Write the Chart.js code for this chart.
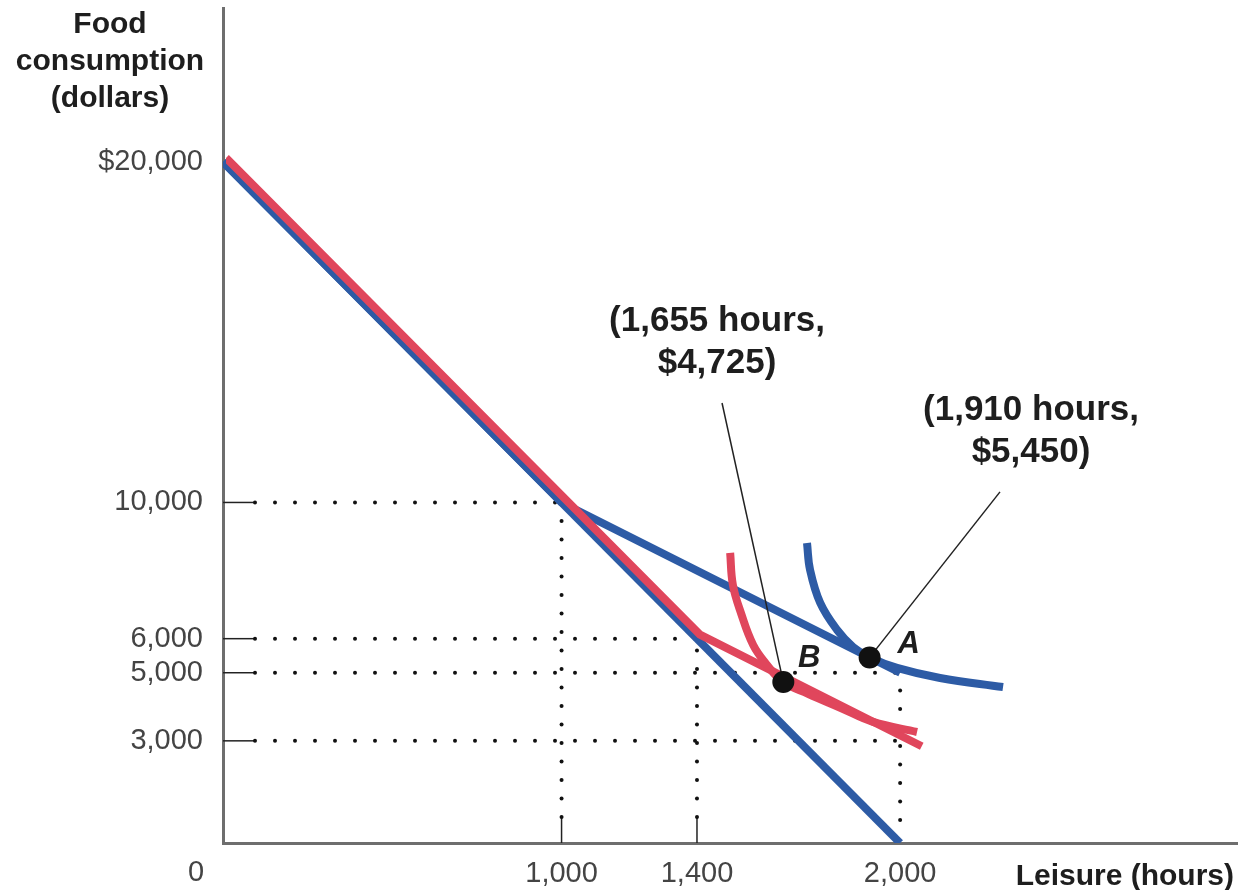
<!DOCTYPE html>
<html lang="en">
<head>
<meta charset="UTF-8">
<title>Food consumption and leisure</title>
<script src="https://cdn.jsdelivr.net/npm/chart.js"></script>
<style>
  * { margin: 0; padding: 0; box-sizing: border-box; }
  body { background: #fff; width: 1238px; height: 890px; overflow: hidden; }
  canvas { display: block; }
</style>
</head>
<body>
<canvas id="chart" width="1238" height="890"></canvas>
<script>
// budget lines: leisure (hours) -> food (dollars)
const blueBudgetX = [0, 2000];
const blueBudgetY = [20000, 0];
const blueKinkX = [0, 1000, 2000];
const blueKinkY = [20000, 10000, 5000];
const redBudgetX = [0, 1400, 2055];
const redBudgetY = [20000, 6000, 2725];

// indifference curves
const redCurveX = [1498, 1506, 1530, 1566, 1607, 1655, 1728, 1825, 1920, 2050];
const redCurveY = [8520, 7580, 6750, 5815, 5230, 4725, 4380, 3965, 3555, 3260];
const blueCurveX = [1725, 1734, 1764, 1814, 1861, 1910, 1991, 2118, 2304];
const blueCurveY = [8810, 8020, 7050, 6255, 5755, 5450, 5140, 4845, 4580];

// chosen points and the far end of their callout lines
const pointNames = ['B', 'A'];
const pointX = [1655, 1910];
const pointY = [4725, 5450];
const calloutX = [1474, 2295];
const calloutY = [12920, 10310];
const calloutText = [['(1,655 hours,', '$4,725)'], ['(1,910 hours,', '$5,450)']];

// dotted guides
const guideHY = [10000, 6000, 5000, 3000];
const guideHX = [1000, 1400, 2000, 2000];
const guideVX = [1000, 1400, 2000];
const guideVY = [10000, 6000, 5000];
const solidVX = [1000, 1400];

const xTicks = [1000, 1400, 2000];
const xTickLabels = ['1,000', '1,400', '2,000'];
const yTicks = [3000, 5000, 6000, 10000, 20000];
const yTickLabels = ['3,000', '5,000', '6,000', '10,000', '$20,000'];
const yTitle = ['Food', 'consumption', '(dollars)'];
const xTitle = 'Leisure (hours)';

const RED = '#e0465c';
const BLUE = '#2d5ba5';
const SANS = '"Liberation Sans", Arial, sans-serif';

const pts = (xs, ys) => xs.map((v, i) => ({ x: v, y: ys[i] }));

function dots(ctx, x1, y1, x2, y2, step) {
    const len = Math.hypot(x2 - x1, y2 - y1);
    const n = Math.floor(len / step);
    for (let k = 0; k <= n; k++) {
        const t = len ? k * step / len : 0;
        ctx.beginPath();
        ctx.arc(x1 + (x2 - x1) * t, y1 + (y2 - y1) * t, 2, 0, Math.PI * 2);
        ctx.fill();
    }
}

function seg(ctx, x1, y1, x2, y2) {
    ctx.beginPath();
    ctx.moveTo(x1, y1);
    ctx.lineTo(x2, y2);
    ctx.stroke();
}

const decor = {
    id: 'decor',
    beforeDatasetsDraw(chart) {
        const { ctx, chartArea: a, scales: { x, y } } = chart;
        ctx.save();
        ctx.fillStyle = '#111';
        ctx.strokeStyle = '#222';
        ctx.lineWidth = 1.5;
        guideHY.forEach((v, i) => {
            const py = y.getPixelForValue(v);
            seg(ctx, a.left, py, a.left + 32, py);
            dots(ctx, a.left + 32, py, x.getPixelForValue(guideHX[i]), py, 20);
        });
        guideVX.forEach((v, i) => {
            const px = x.getPixelForValue(v);
            const top = y.getPixelForValue(guideVY[i]);
            if (solidVX.includes(v)) {
                seg(ctx, px, a.bottom, px, a.bottom - 26);
                dots(ctx, px, a.bottom - 26, px, top, 18.5);
            } else {
                dots(ctx, px, a.bottom - 23, px, top, 18.5);
            }
        });
        ctx.restore();
    },
    beforeDatasetDraw(chart, args) {
        const shift = chart.data.datasets[args.index].shift;
        chart.ctx.save();
        if (shift) chart.ctx.translate(shift[0], shift[1]);
    },
    afterDatasetDraw(chart) {
        chart.ctx.restore();
    },
    afterDatasetsDraw(chart) {
        const { ctx, chartArea: a, scales: { x, y } } = chart;
        ctx.save();
        ctx.textAlign = 'center';
        ctx.textBaseline = 'middle';

        // axis titles
        ctx.fillStyle = '#1e1e1e';
        ctx.font = 'bold 30px ' + SANS;
        yTitle.forEach((t, i) => ctx.fillText(t, a.left - 113, 25 + i * 37));
        ctx.textAlign = 'right';
        ctx.fillText(xTitle, a.right - 4, a.bottom + 34);

        // origin
        ctx.textAlign = 'center';
        ctx.fillStyle = '#444';
        ctx.font = '29px ' + SANS;
        ctx.fillText('0', a.left - 27, a.bottom + 30);

        // callouts
        ctx.fillStyle = '#1e1e1e';
        ctx.font = 'bold 35px ' + SANS;
        const dx = [-5, 31];
        calloutText.forEach((lines, i) => {
            const px = x.getPixelForValue(calloutX[i]) + dx[i];
            const py = y.getPixelForValue(calloutY[i]);
            ctx.fillText(lines[0], px, py - 82);
            ctx.fillText(lines[1], px, py - 40);
        });

        // point names
        ctx.font = 'italic bold 31px ' + SANS;
        const off = [[26, -24], [39, -13]];
        pointNames.forEach((n, i) => {
            ctx.fillText(n, x.getPixelForValue(pointX[i]) + off[i][0], y.getPixelForValue(pointY[i]) + off[i][1]);
        });
        ctx.restore();
    }
};

const lineStyle = { showLine: true, pointRadius: 0, borderWidth: 8, clip: 0, borderJoinStyle: 'round' };

new Chart(document.getElementById('chart'), {
    type: 'scatter',
    data: {
        datasets: [
            { data: pts(pointX, pointY), backgroundColor: '#111', borderWidth: 0, pointRadius: 11, showLine: false },
            { data: [{ x: pointX[0], y: pointY[0] }, { x: calloutX[0], y: calloutY[0] }], showLine: true, pointRadius: 0, borderColor: '#222', borderWidth: 1.5 },
            { data: [{ x: pointX[1], y: pointY[1] }, { x: calloutX[1], y: calloutY[1] }], showLine: true, pointRadius: 0, borderColor: '#222', borderWidth: 1.5 },
            { ...lineStyle, data: pts(redCurveX, redCurveY), borderColor: RED, tension: 0.4 },
            { ...lineStyle, data: pts(redBudgetX, redBudgetY), borderColor: RED, shift: [3, -4] },
            { ...lineStyle, data: pts(blueCurveX, blueCurveY), borderColor: BLUE, tension: 0.4 },
            { ...lineStyle, data: pts(blueKinkX, blueKinkY), borderColor: BLUE },
            { ...lineStyle, data: pts(blueBudgetX, blueBudgetY), borderColor: BLUE }
        ]
    },
    options: {
        responsive: false,
        animation: false,
        devicePixelRatio: 1,
        events: [],
        layout: { autoPadding: false, padding: { top: 8, right: 0, left: 0, bottom: 0 } },
        plugins: { legend: { display: false }, tooltip: { enabled: false } },
        scales: {
            x: {
                type: 'linear', min: 0, max: 2998,
                grid: { display: false, drawTicks: false },
                border: { color: '#6e6e6e', width: 3 },
                afterBuildTicks: s => { s.ticks = xTicks.map(v => ({ value: v })); },
                afterFit: s => { s.height = 47; s.paddingLeft = 0; s.paddingRight = 0; },
                ticks: {
                    autoSkip: false, maxRotation: 0, padding: 14, color: '#444',
                    font: { family: SANS, size: 29 },
                    callback: (v, i) => xTickLabels[i]
                }
            },
            y: {
                type: 'linear', min: 0, max: 24520,
                grid: { display: false, drawTicks: false },
                border: { color: '#6e6e6e', width: 3 },
                afterBuildTicks: s => { s.ticks = yTicks.map(v => ({ value: v })); },
                afterFit: s => { s.width = 223; s.paddingTop = 0; s.paddingBottom = 0; },
                ticks: {
                    autoSkip: false, padding: 20, color: '#444',
                    font: { family: SANS, size: 29 },
                    callback: (v, i) => yTickLabels[i]
                }
            }
        }
    },
    plugins: [decor]
});
</script>
</body>
</html>
